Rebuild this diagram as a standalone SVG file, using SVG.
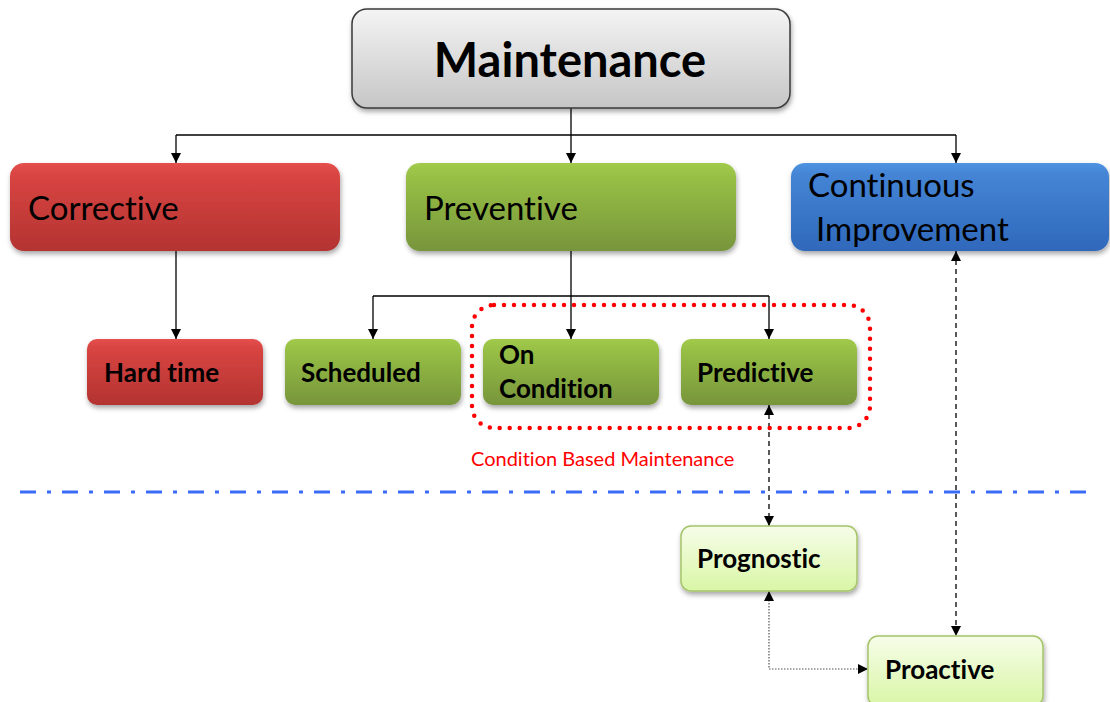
<svg xmlns="http://www.w3.org/2000/svg" width="1110" height="702" viewBox="0 0 1110 702">
<defs>
<linearGradient id="gGray" x1="0" y1="0" x2="0" y2="1"><stop offset="0" stop-color="#f4f4f4"/><stop offset="1" stop-color="#c6c6c6"/></linearGradient>
<linearGradient id="gRed" x1="0" y1="0" x2="0" y2="1"><stop offset="0" stop-color="#e5504d"/><stop offset="0.12" stop-color="#d94542"/><stop offset="1" stop-color="#b33331"/></linearGradient>
<linearGradient id="gGreen" x1="0" y1="0" x2="0" y2="1"><stop offset="0" stop-color="#a2cb4c"/><stop offset="0.12" stop-color="#99c246"/><stop offset="1" stop-color="#77953b"/></linearGradient>
<linearGradient id="gBlue" x1="0" y1="0" x2="0" y2="1"><stop offset="0" stop-color="#4f93e2"/><stop offset="0.12" stop-color="#4585d6"/><stop offset="1" stop-color="#2f68bb"/></linearGradient>
<linearGradient id="gLight" x1="0" y1="0" x2="0" y2="1"><stop offset="0" stop-color="#f6fde9"/><stop offset="1" stop-color="#d9f6a6"/></linearGradient>
<filter id="sh" x="-10%" y="-10%" width="120%" height="130%"><feDropShadow dx="1" dy="3" stdDeviation="2.5" flood-color="#000" flood-opacity="0.35"/></filter>
<marker id="ah" viewBox="0 0 10 10" refX="10" refY="5" markerWidth="10" markerHeight="10" markerUnits="userSpaceOnUse" orient="auto-start-reverse"><path d="M0,0 L10,5 L0,10 z" fill="#000"/></marker>
</defs>
<style>
text{font-variant-ligatures:none}
.lbl{font-family:Lato,"Liberation Sans",sans-serif;fill:#000}
.big{font-size:47px;font-weight:bold}
.mid{font-size:33px}
.sm{font-size:26px;font-weight:bold}
.ln{fill:none;stroke:#000;stroke-width:1.3}
.dash{fill:none;stroke:#000;stroke-width:1.3;stroke-dasharray:5 4}
.dot{fill:none;stroke:#555;stroke-width:1.2;stroke-dasharray:1.5 1.5}
</style>
<rect width="1110" height="702" fill="#fff"/>
<g id="connectors">
<path class="ln" d="M571,108 V135"/>
<path class="ln" d="M176,135 H956"/>
<path class="ln" d="M176,135 V163" marker-end="url(#ah)"/>
<path class="ln" d="M571,135 V163" marker-end="url(#ah)"/>
<path class="ln" d="M956,135 V163" marker-end="url(#ah)"/>
<path class="ln" d="M176,251 V339" marker-end="url(#ah)"/>
<path class="ln" d="M571,251 V339" marker-end="url(#ah)"/>
<path class="ln" d="M373,296 H769"/>
<path class="ln" d="M373,296 V339" marker-end="url(#ah)"/>
<path class="ln" d="M769,296 V339" marker-end="url(#ah)"/>
<path class="dash" d="M769,405 V526" marker-start="url(#ah)" marker-end="url(#ah)"/>
<path class="dash" d="M956,251 V636" marker-start="url(#ah)" marker-end="url(#ah)"/>
<path class="dot" d="M769,591 V669 H868" marker-start="url(#ah)" marker-end="url(#ah)"/>
</g>
<g id="cbm">
<rect x="472" y="305" width="398" height="123" rx="22" fill="none" stroke="#ff0000" stroke-width="4.5" stroke-linecap="round" stroke-dasharray="0 10"/>
<text x="471" y="466" style="font-family:Lato,'Liberation Sans',sans-serif;font-size:20px;fill:#ff0000">Condition Based  Maintenance</text>
</g>
<path id="divider" d="M20,492 H1092" fill="none" stroke="#3b6cf5" stroke-width="3" stroke-dasharray="16 11 4 11"/>
<g id="maintenance">
<rect x="352" y="9" width="438" height="99" rx="15" fill="url(#gGray)" stroke="#3a3a3a" stroke-width="1.5" filter="url(#sh)"/>
<text class="lbl big" x="570" y="77" text-anchor="middle">Maintenance</text>
</g>
<g id="corrective">
<rect x="10" y="163" width="330" height="88" rx="14" fill="url(#gRed)" filter="url(#sh)"/>
<text class="lbl mid" x="28" y="220">Corrective</text>
</g>
<g id="preventive">
<rect x="406" y="163" width="330" height="88" rx="14" fill="url(#gGreen)" filter="url(#sh)"/>
<text class="lbl mid" x="424" y="220">Preventive</text>
</g>
<g id="continuous">
<rect x="791" y="163" width="318" height="88" rx="14" fill="url(#gBlue)" filter="url(#sh)"/>
<text class="lbl mid" x="808" y="197">Continuous</text>
<text class="lbl mid" x="816" y="241">Improvement</text>
</g>
<g id="hardtime">
<rect x="87" y="339" width="176" height="66" rx="10" fill="url(#gRed)" filter="url(#sh)"/>
<text class="lbl sm" x="104" y="382">Hard time</text>
</g>
<g id="scheduled">
<rect x="285" y="339" width="176" height="66" rx="10" fill="url(#gGreen)" filter="url(#sh)"/>
<text class="lbl sm" x="301" y="382">Scheduled</text>
</g>
<g id="oncondition">
<rect x="483" y="339" width="176" height="66" rx="10" fill="url(#gGreen)" filter="url(#sh)"/>
<text class="lbl sm" x="499" y="364">On</text>
<text class="lbl sm" x="499" y="398">Condition</text>
</g>
<g id="predictive">
<rect x="681" y="339" width="176" height="66" rx="10" fill="url(#gGreen)" filter="url(#sh)"/>
<text class="lbl sm" x="697" y="382">Predictive</text>
</g>
<g id="prognostic">
<rect x="681" y="526" width="176" height="65" rx="10" fill="url(#gLight)" stroke="#a5c46a" stroke-width="1.5" filter="url(#sh)"/>
<text class="lbl sm" x="697" y="568">Prognostic</text>
</g>
<g id="proactive">
<rect x="868" y="636" width="175" height="70" rx="10" fill="url(#gLight)" stroke="#a5c46a" stroke-width="1.5" filter="url(#sh)"/>
<text class="lbl sm" x="885" y="679">Proactive</text>
</g>
</svg>
